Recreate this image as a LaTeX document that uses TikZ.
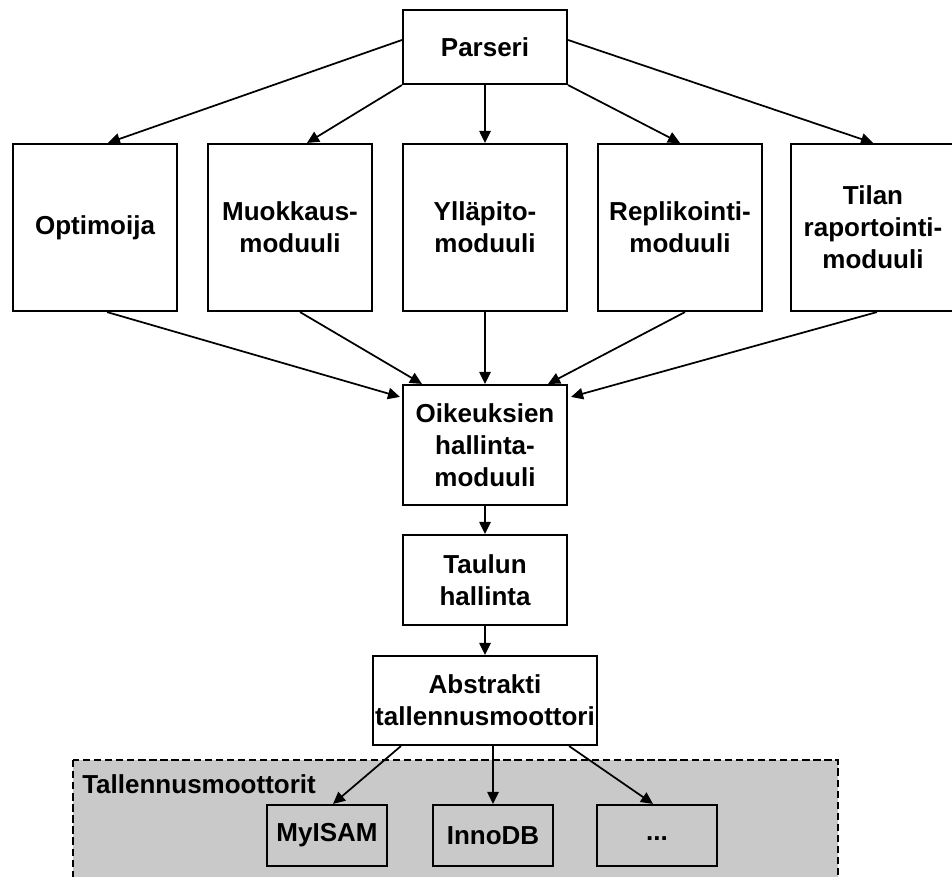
\documentclass[tikz,border=0pt]{standalone}
\usepackage{fontspec}
\setmainfont{Liberation Sans}
\usetikzlibrary{arrows.meta,calc}

\definecolor{enginefill}{HTML}{C9C9C9}

\tikzset{
  unit/.style={draw=black, line width=1.6pt, fill=white, inner sep=0pt,
    align=center, font=\bfseries\fontsize{19.5pt}{24pt}\selectfont},
  engine/.style={unit, fill=none},
  flow/.style={draw=black, line width=1.3pt,
    -{Triangle[length=9pt,width=8.5pt]}},
  enginegroup/.style={draw=black, line width=1.6pt, fill=enginefill,
    dash pattern=on 5.5pt off 2.8pt}
}

\begin{document}
\begin{tikzpicture}[x=0.75pt,y=-0.75pt]
  \clip (0,0) rectangle (952,877);

  % group of storage engines (runs past the lower edge)
  \path[enginegroup] (73,760) rectangle (838,900);
  \node[anchor=base west, font=\bfseries\fontsize{19.5pt}{24pt}\selectfont,
        inner sep=0pt] (grouplabel) at (82,793) {Tallennusmoottorit};

  % top level
  \node[unit, minimum width=123pt, minimum height=55.5pt] (parser) at (485,47) {Parseri};

  % module row
  \node[unit, minimum width=123pt, minimum height=125.25pt] (opt)  at (95,227.5)  {Optimoija};
  \node[unit, minimum width=123pt, minimum height=125.25pt] (muok) at (290,227.5) {Muokkaus-\\moduuli};
  \node[unit, minimum width=123pt, minimum height=125.25pt] (yll)  at (485,227.5) {Ylläpito-\\moduuli};
  \node[unit, minimum width=123pt, minimum height=125.25pt] (rep)  at (680,227.5) {Replikointi-\\moduuli};
  \node[unit, minimum width=123pt, minimum height=125.25pt] (til)  at (873,227.5) {Tilan\\raportointi-\\moduuli};

  % central chain
  \node[unit, minimum width=123pt, minimum height=90pt]   (oik) at (485,445)   {Oikeuksien\\hallinta-\\moduuli};
  \node[unit, minimum width=123pt, minimum height=67.5pt] (tau) at (485,580)   {Taulun\\hallinta};
  \node[unit, minimum width=168pt, minimum height=66.75pt] (abs) at (485,700.5) {Abstrakti\\tallennusmoottori};

  % storage engines
  \node[engine, minimum width=90pt, minimum height=45.75pt] (myisam) at (327,835.5) {MyISAM};
  \node[engine, minimum width=90pt, minimum height=45.75pt] (inno)   at (493,835.5) {InnoDB};
  \node[engine, minimum width=90pt, minimum height=45.75pt] (more)   at (657,835.5) {\raisebox{-4pt}[0pt][0pt]{...}};

  % parser to modules
  \draw[flow] ($(parser.west)+(0,-7)$) -- ($(opt.north)+(13,0)$);
  \draw[flow] (parser.south west) -- ($(muok.north)+(17,0)$);
  \draw[flow] (parser.south) -- (yll.north);
  \draw[flow] (parser.south east) -- (rep.north);
  \draw[flow] ($(parser.east)+(0,-7)$) -- (til.north);

  % modules to access control
  \draw[flow] ($(opt.south)+(12,0)$) -- ($(oik.north west)+(-2,13)$);
  \draw[flow] ($(muok.south)+(10,0)$) -- ($(oik.north west)+(20,0)$);
  \draw[flow] (yll.south) -- (oik.north);
  \draw[flow] ($(rep.south)+(5,0)$) -- ($(oik.north east)+(-20,0)$);
  \draw[flow] ($(til.south)+(4,0)$) -- ($(oik.north east)+(3,13)$);

  % central chain
  \draw[flow] (oik.south) -- (tau.north);
  \draw[flow] (tau.south) -- (abs.north);

  % abstract engine to storage engines
  \draw[flow] ($(abs.south west)+(29,0)$) -- ($(myisam.north)+(6,0)$);
  \draw[flow] (abs.south -| inno.north) -- (inno.north);
  \draw[flow] ($(abs.south east)+(-29,0)$) -- ($(more.north)+(-4,0)$);
\end{tikzpicture}
\end{document}
